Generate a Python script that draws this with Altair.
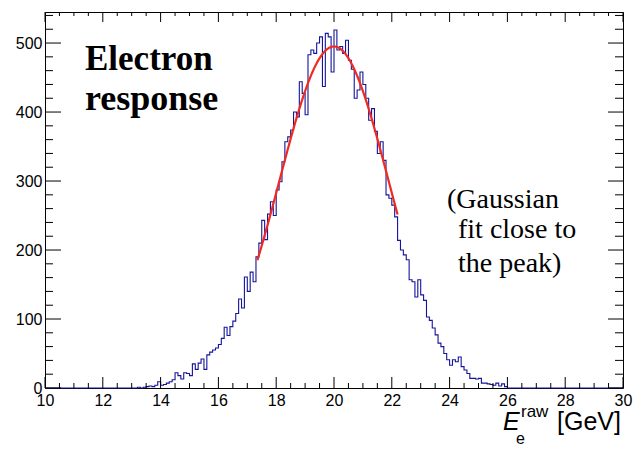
import altair as alt
import numpy as np
import pandas as pd

# ---- histogram: bin contents (bin width 0.1 GeV, first bin starts at 13.2 GeV)
bin_start = 13.2
bin_width = 0.1
counts = [
    1, 0, 1, 2, 3, 2, 4, 9,                              # 13.2 - 13.9
    4, 5, 7, 9, 12, 22, 18, 13, 22, 21,                  # 14.x
    18, 35, 27, 36, 42, 27, 48, 52, 55, 58,              # 15.x
    63, 72, 88, 76, 89, 97, 108, 129, 116, 161,          # 16.x
    140, 168, 154, 190, 210, 243, 215, 252, 270, 250,    # 17.x
    287, 299, 328, 357, 364, 374, 400, 393, 444, 427,    # 18.x
    396, 483, 490, 485, 500, 509, 437, 514, 509, 458,    # 19.x
    519, 490, 495, 485, 504, 475, 462, 420, 432, 458,    # 20.x
    440, 420, 388, 405, 372, 340, 357, 330, 280, 275,    # 21.x
    265, 248, 214, 200, 193, 186, 157, 154, 132, 157,    # 22.x
    135, 127, 103, 98, 87, 77, 65, 60, 50, 41,           # 23.x
    33, 41, 38, 45, 31, 26, 21, 14, 14, 13,              # 24.x
    14, 7, 7, 6, 5, 4, 7, 3, 6, 2,                       # 25.x
]

# ---- Gaussian fit parameters (fit close to the peak)
fit_amp = 495.0
fit_mean = 20.0
fit_sigma = 1.89
fit_lo = 17.35
fit_hi = 22.2

# ---- axis ranges and ticks
x_range = [10, 30]
y_range = [0, 545]
x_major = [10, 12, 14, 16, 18, 20, 22, 24, 26, 28, 30]
x_minor = [v / 2 for v in range(20, 61) if v % 4 != 0]
y_major = [0, 100, 200, 300, 400, 500]
y_minor = [v for v in range(20, 545, 20) if v % 100 != 0]

W, H = 578, 376

edges = np.round(bin_start + bin_width * np.arange(len(counts) + 1), 3)
hist_df = pd.DataFrame({
    "E": [x_range[0]] + list(edges) + [x_range[1]],
    "n": [0] + counts + [0, 0],
})

fx = np.linspace(fit_lo, fit_hi, 200)
fit_df = pd.DataFrame({
    "E": fx,
    "f": fit_amp * np.exp(-0.5 * ((fx - fit_mean) / fit_sigma) ** 2),
})

xs = alt.Scale(domain=x_range, nice=False, zero=False)
ys = alt.Scale(domain=y_range, nice=False, zero=False)

ax_x = alt.Axis(values=x_major, format="d", title=None, labelPadding=4)
ax_y = alt.Axis(values=y_major, format="d", title=None, labelPadding=3)

hist = alt.Chart(hist_df).mark_line(
    interpolate="step-after", color="#14149a", strokeWidth=1.1
).encode(
    x=alt.X("E:Q", scale=xs, axis=ax_x),
    y=alt.Y("n:Q", scale=ys, axis=ax_y),
)

fit = alt.Chart(fit_df).mark_line(color="#ee2a22", strokeWidth=2.2).encode(
    x=alt.X("E:Q", scale=xs, axis=ax_x),
    y=alt.Y("f:Q", scale=ys, axis=ax_y),
)


def xticks(vals, y0, y1):
    return alt.Chart(pd.DataFrame({"v": vals})).mark_rule(
        color="black", strokeWidth=1).encode(
        x=alt.X("v:Q", scale=xs, axis=ax_x),
        y=alt.value(y0), y2=alt.value(y1))


def yticks(vals, x0, x1):
    return alt.Chart(pd.DataFrame({"v": vals})).mark_rule(
        color="black", strokeWidth=1).encode(
        y=alt.Y("v:Q", scale=ys, axis=ax_y),
        x=alt.value(x0), x2=alt.value(x1))


ticks = [
    xticks(x_major, H, H - 11), xticks(x_minor, H, H - 5),
    xticks(x_major, 0, 10), xticks(x_minor, 0, 4),
    yticks(y_major, 0, 16), yticks(y_minor, 0, 8),
    yticks(y_major, W, W - 15), yticks(y_minor, W, W - 8),
]


def label(text, x, y, size, font, align="left", weight="normal", style="normal"):
    return alt.Chart(pd.DataFrame({"t": [text]})).mark_text(
        align=align, baseline="alphabetic", fontSize=size, font=font,
        fontWeight=weight, fontStyle=style, color="black").encode(
        text="t:N", x=alt.value(x), y=alt.value(y))


texts = [
    label("Electron", 40, 58, 35, "Liberation Serif", weight="bold"),
    label("response", 40, 98, 36, "Liberation Serif", weight="bold"),
    label("(Gaussian", 402, 196, 28, "Liberation Serif"),
    label("fit close to", 413, 226, 28, "Liberation Serif"),
    label("the peak)", 413, 260, 28, "Liberation Serif"),
    label("E", 458, 418, 25, "Liberation Sans", style="italic"),
    label("raw", 476, 405, 17, "Liberation Sans"),
    label("e", 471, 432, 16, "Liberation Sans"),
    label("[GeV]", 576, 418, 25, "Liberation Sans", align="right"),
]

chart = alt.layer(hist, fit, *ticks, *texts).properties(
    width=W, height=H,
    padding={"left": 45, "top": 12, "right": 12, "bottom": 65},
    autosize="none",
    background="white",
).configure_view(stroke="black", strokeWidth=1).configure_axis(
    ticks=False, tickSize=0, domain=False, grid=False,
    labelFontSize=16, labelFont="Liberation Sans", labelColor="black",
    labelFlush=False, labelOverlap=False,
)

chart.save("out.html", embed_options={"renderer": "svg", "actions": False})
